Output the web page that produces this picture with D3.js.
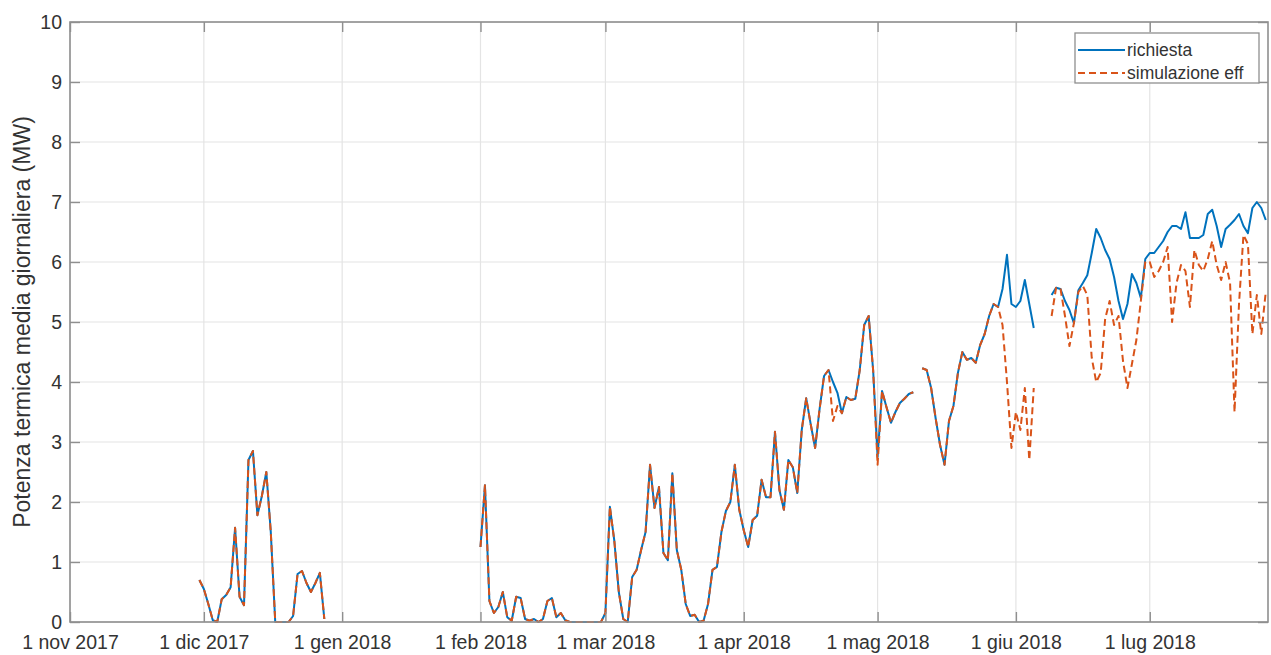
<!DOCTYPE html>
<html><head><meta charset="utf-8">
<script src="https://cdn.jsdelivr.net/npm/d3@7"></script>
<style>
html,body{margin:0;padding:0;background:#fff;}
svg text{font-family:"Liberation Sans",Arial,Helvetica,sans-serif;}
</style></head><body>
<svg id="chart" width="1271" height="655"></svg>
<script>
// ---------------- data ----------------
const axisStart = "2017-11-01 00:00";
const axisEnd = "2018-07-27 12:00";
const tickDates = ["2017-11-01","2017-12-01","2018-01-01","2018-02-01","2018-03-01","2018-04-01","2018-05-01","2018-06-01","2018-07-01"];
const tickLabels = ["1 nov 2017","1 dic 2017","1 gen 2018","1 feb 2018","1 mar 2018","1 apr 2018","1 mag 2018","1 giu 2018","1 lug 2018"];
const yTicks = [0,1,2,3,4,5,6,7,8,9,10];
const yLabel = "Potenza termica media giornaliera (MW)";
const seriesNames = ["richiesta","simulazione eff"];
const segmentStarts = ["2017-11-30","2018-02-01","2018-05-11","2018-06-09"];

const richiesta1 = [0.7,0.55,0.3,0.03,0,0.38,0.45,0.58,1.57,0.42,0.28,2.7,2.85,1.78,2.1,2.5,1.5,0,0,0,0,0.1,0.8,0.85,0.65,0.5,0.65,0.82,0.05];
const simulazione1 = [0.7,0.55,0.3,0.03,0,0.38,0.45,0.58,1.57,0.42,0.28,2.7,2.85,1.78,2.1,2.5,1.5,0,0,0,0,0.1,0.8,0.85,0.65,0.5,0.65,0.82,0.05];

const richiesta2 = [1.25,2.28,0.35,0.15,0.25,0.5,0.08,0.02,0.42,0.4,
  0.05,0.02,0.05,0,0.05,0.35,0.4,0.08,0.15,0.03,
  0,0,0,0,0,0,0,0,0.15,1.92,
  1.35,0.5,0.05,0,0.75,0.87,1.2,1.5,2.62,1.9,
  2.25,1.15,1.03,2.48,1.2,0.87,0.3,0.1,0.12,0,
  0.02,0.3,0.87,0.92,1.5,1.85,2.0,2.62,1.87,1.53,
  1.25,1.7,1.77,2.37,2.08,2.08,3.17,2.2,1.87,2.7,
  2.58,2.15,3.2,3.73,3.3,2.9,3.55,4.1,4.2,4.0,
  3.82,3.48,3.75,3.7,3.72,4.2,4.95,5.1,4.2,2.75,
  3.85,3.58,3.32,3.5,3.65,3.72,3.8,3.83];
const simulazione2 = [1.25,2.28,0.35,0.15,0.25,0.5,0.08,0.02,0.42,0.4,
  0.05,0.02,0.05,0,0.05,0.35,0.4,0.08,0.15,0.03,
  0,0,0,0,0,0,0,0,0.15,1.92,
  1.35,0.5,0.05,0,0.75,0.87,1.2,1.5,2.62,1.9,
  2.25,1.15,1.03,2.48,1.2,0.87,0.3,0.1,0.12,0,
  0.02,0.3,0.87,0.92,1.5,1.85,2.0,2.62,1.87,1.53,
  1.25,1.7,1.77,2.37,2.08,2.08,3.17,2.2,1.87,2.7,
  2.58,2.15,3.2,3.73,3.3,2.9,3.55,4.1,4.2,3.35,
  3.6,3.48,3.75,3.7,3.72,4.2,4.95,5.1,4.2,2.62,
  3.85,3.58,3.32,3.5,3.65,3.72,3.8,3.83];

const richiesta3 = [4.23,4.2,3.9,3.4,2.95,2.62,3.35,3.6,4.15,4.5,4.37,4.4,4.32,4.62,4.8,5.1,5.3,5.25,5.55,6.12,5.3,5.25,5.35,5.7,5.3,4.9];
const simulazione3 = [4.23,4.2,3.9,3.4,2.95,2.62,3.35,3.6,4.15,4.5,4.37,4.4,4.32,4.62,4.8,5.1,5.3,5.25,4.95,4.0,2.9,3.5,3.2,3.9,2.7,3.9];

const richiesta4 = [5.45,5.57,5.55,5.35,5.2,4.98,5.53,5.65,5.78,6.15,
  6.55,6.4,6.2,6.05,5.75,5.35,5.05,5.3,5.8,5.65,
  5.4,6.05,6.15,6.15,6.25,6.35,6.5,6.6,6.6,6.55,
  6.83,6.4,6.4,6.4,6.45,6.8,6.87,6.6,6.25,6.55,
  6.62,6.7,6.8,6.6,6.48,6.9,7.0,6.9,6.7];
const simulazione4 = [5.1,5.57,5.55,5.1,4.6,4.98,5.5,5.6,5.45,4.4,
  4.0,4.15,5.05,5.35,4.95,5.1,4.35,3.9,4.3,4.7,
  5.35,6.0,6.0,5.75,5.85,6.0,6.25,5.0,5.65,5.95,
  5.85,5.25,6.2,5.95,5.85,6.05,6.35,5.95,5.7,6.0,
  5.65,3.5,5.3,6.45,6.3,4.8,5.45,4.8,5.5];

const richiestaSegments = [richiesta1, richiesta2, richiesta3, richiesta4];
const simulazioneSegments = [simulazione1, simulazione2, simulazione3, simulazione4];

// ---------------- drawing ----------------
const W = 1271, H = 655;
const margin = {left: 70, right: 3, top: 22, bottom: 33};
const plotW = W - margin.left - margin.right;
const plotH = H - margin.top - margin.bottom;

const parseDT = d3.utcParse("%Y-%m-%d %H:%M");
const parseD = d3.utcParse("%Y-%m-%d");

const x = d3.scaleUtc().domain([parseDT(axisStart), parseDT(axisEnd)]).range([0, plotW]);
const y = d3.scaleLinear().domain([0, 10]).range([plotH, 0]);

const svg = d3.select("#chart");
const g = svg.append("g").attr("transform", `translate(${margin.left},${margin.top})`);

const axisColor = "#8f8f8f";
const textColor = "#333333";
const gridColor = "#e4e4e4";
const fontSize = 19.5;

const xTickVals = tickDates.map(parseD);

// grid
g.append("g").selectAll("line").data(xTickVals).join("line")
  .attr("x1", d => x(d)).attr("x2", d => x(d)).attr("y1", 0).attr("y2", plotH)
  .attr("stroke", gridColor).attr("stroke-width", 1.2);
g.append("g").selectAll("line").data(yTicks).join("line")
  .attr("x1", 0).attr("x2", plotW).attr("y1", d => y(d)).attr("y2", d => y(d))
  .attr("stroke", gridColor).attr("stroke-width", 1.2);

// series
function toPoints(seg, i) {
  const s = parseD(segmentStarts[i]);
  return seg.map((v, k) => ({date: d3.utcDay.offset(s, k), v}));
}
const line = d3.line().x(d => x(d.date)).y(d => y(d.v));

svg.append("defs").append("clipPath").attr("id", "clip")
  .append("rect").attr("width", plotW).attr("height", plotH + 1);

const lines = g.append("g").attr("clip-path", "url(#clip)");
richiestaSegments.forEach((seg, i) => {
  lines.append("path").datum(toPoints(seg, i)).attr("d", line)
    .attr("fill", "none").attr("stroke", "#0072BD").attr("stroke-width", 2)
    .attr("stroke-linejoin", "round");
});
simulazioneSegments.forEach((seg, i) => {
  lines.append("path").datum(toPoints(seg, i)).attr("d", line)
    .attr("fill", "none").attr("stroke", "#D95319").attr("stroke-width", 2)
    .attr("stroke-dasharray", "7,4").attr("stroke-linejoin", "round");
});

// axes
const tickLen = 10;
const xAxis = d3.axisBottom(x).tickValues(xTickVals)
  .tickFormat((d, i) => tickLabels[i]).tickSizeInner(-tickLen).tickSizeOuter(0).tickPadding(13);
const gx = g.append("g").attr("transform", `translate(0,${plotH})`).call(xAxis);
const xTop = d3.axisTop(x).tickValues(xTickVals).tickFormat("").tickSizeInner(-tickLen).tickSizeOuter(0);
const gxt = g.append("g").call(xTop);
const yAxis = d3.axisLeft(y).tickValues(yTicks).tickFormat(d3.format("d"))
  .tickSizeInner(-tickLen).tickSizeOuter(0).tickPadding(8);
const gy = g.append("g").call(yAxis);
const yRight = d3.axisRight(y).tickValues(yTicks).tickFormat("").tickSizeInner(-tickLen).tickSizeOuter(0);
const gyr = g.append("g").attr("transform", `translate(${plotW},0)`).call(yRight);

[gx, gxt, gy, gyr].forEach(a => {
  a.select(".domain").remove();
  a.selectAll(".tick line").attr("stroke", axisColor).attr("stroke-width", 1.4);
  a.selectAll("text").attr("fill", textColor).attr("font-size", fontSize)
    .attr("font-family", '"Liberation Sans",Arial,sans-serif');
});

// box
g.append("rect").attr("x", 0).attr("y", 0).attr("width", plotW).attr("height", plotH)
  .attr("fill", "none").attr("stroke", axisColor).attr("stroke-width", 1.6);

// y label
svg.append("text")
  .attr("transform", `translate(30,${margin.top + plotH / 2}) rotate(-90)`)
  .attr("text-anchor", "middle").attr("fill", textColor).attr("font-size", 23)
  .text(yLabel);

// legend
const lg = svg.append("g").attr("transform", "translate(1075,33)");
lg.append("rect").attr("width", 184).attr("height", 50)
  .attr("fill", "#fff").attr("stroke", axisColor).attr("stroke-width", 1.3);
const legendItems = [
  {name: seriesNames[0], color: "#0072BD", dash: null},
  {name: seriesNames[1], color: "#D95319", dash: "7,4"}
];
legendItems.forEach((it, i) => {
  const cy = 17 + i * 23;
  lg.append("line").attr("x1", 3).attr("x2", 50).attr("y1", cy).attr("y2", cy)
    .attr("stroke", it.color).attr("stroke-width", 2)
    .attr("stroke-dasharray", it.dash);
  lg.append("text").attr("x", 52).attr("y", cy).attr("dy", "0.35em")
    .attr("fill", textColor).attr("font-size", 17.5).text(it.name);
});
</script>
</body></html>
